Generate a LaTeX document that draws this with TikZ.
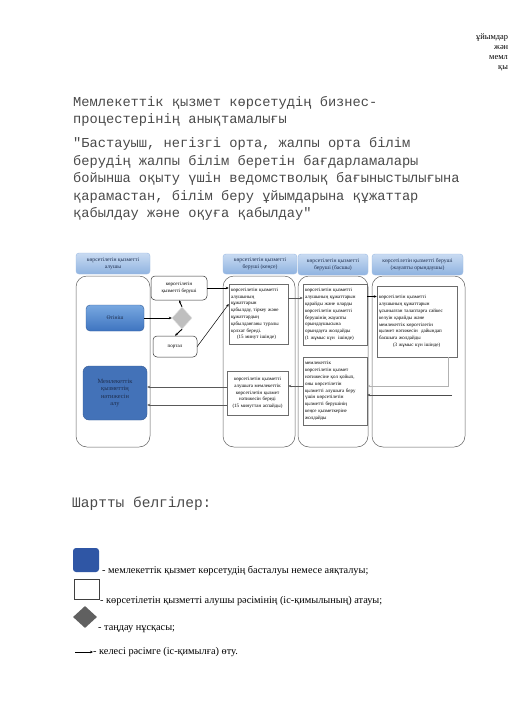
\documentclass[tikz,border=0pt]{standalone}
\usepackage{fontspec}
\setmainfont{Liberation Serif}
\setmonofont{Liberation Mono}
\usetikzlibrary{shapes.geometric,arrows.meta}
\definecolor{titlegray}{HTML}{4A4A4A}
\definecolor{hdtop}{HTML}{C9DBF2}
\definecolor{hdbot}{HTML}{8FB3E0}
\definecolor{hdline}{HTML}{9DBBE3}
\definecolor{sttop}{HTML}{78A8E0}
\definecolor{stbot}{HTML}{3E74C0}
\definecolor{endblue}{HTML}{4372B8}
\definecolor{legblue}{HTML}{2F56A5}
\definecolor{txtnavy}{HTML}{1E2E4E}
\tikzset{
  lanehead/.style={draw=hdline, rounded corners=3pt, top color=hdtop, bottom color=hdbot,
    font=\fontsize{5.6}{6.6}\selectfont, text=txtnavy, align=center, inner sep=1pt},
  lanebody/.style={draw=gray!75!black, line width=0.5pt, rounded corners=11pt},
  stepbox/.style={draw=gray!85!black, fill=white, line width=0.5pt,
    font=\fontsize{5}{6.8}\selectfont, align=left, inner sep=2pt},
  roundbox/.style={stepbox, draw=black!80, rounded corners=4pt, align=center},
  startbox/.style={draw=stbot!80!black, rounded corners=4pt, top color=sttop, bottom color=stbot,
    font=\fontsize{5.6}{6.6}\selectfont, text=txtnavy},
  endbox/.style={draw=endblue!80!black, fill=endblue, rounded corners=6pt,
    font=\fontsize{6.4}{7.6}\selectfont, text=txtnavy, align=center},
  decision/.style={diamond, fill=gray!50, draw=gray!25, inner sep=0pt, aspect=1},
  arr/.style={-{Stealth[length=3pt,width=2.6pt]}, line width=0.5pt},
  thickarr/.style={arr, line width=0.9pt},
  titletext/.style={font=\ttfamily\fontsize{13.7}{17}\selectfont, text=titlegray, anchor=west, inner sep=0pt},
  legtext/.style={font=\fontsize{10.3}{11}\selectfont, anchor=west, inner sep=0pt},
  cornertext/.style={font=\fontsize{8.4}{10}\selectfont, anchor=west, inner sep=0pt},
}
\begin{document}
\begin{tikzpicture}[x=1pt,y=-1pt]
\useasboundingbox (0,0) rectangle (509,720);
\fill[white] (0,0) rectangle (509,720);

% corner text (cut by page edge)
\node[cornertext] (c1) at (476,38) {ұйымдар};
\node[cornertext] (c2) at (494,48) {жән};
\node[cornertext] (c3) at (489,58) {мемл};
\node[cornertext] (c4) at (498,68) {қы};

% titles
\node[titletext] (t1) at (73,103) {Мемлекеттік қызмет көрсетудің бизнес-};
\node[titletext] (t2) at (73,120) {процестерінің анықтамалығы};
\node[titletext] (t3) at (73,144) {"Бастауыш, негізгі орта, жалпы орта білім};
\node[titletext] (t4) at (73,162) {берудің жалпы білім беретін бағдарламалары};
\node[titletext] (t5) at (73,179) {бойынша оқыту үшін ведомстволық бағыныстылығына};
\node[titletext] (t6) at (73,197) {қарамастан, білім беру ұйымдарына құжаттар};
\node[titletext] (t7) at (73,214) {қабылдау және оқуға қабылдау"};

% lane bodies
\draw[lanebody] (76,276) rectangle (150,447);
\draw[lanebody] (223,276) rectangle (295,447);
\draw[lanebody] (298,276) rectangle (368,447);
\draw[lanebody] (372,276) rectangle (465,447);

% lane headers
\node[lanehead, minimum width=74pt, minimum height=21pt] (h1) at (113,263.5) {көрсетілетін қызметті\\алушы};
\node[lanehead, minimum width=74pt, minimum height=20pt] (h2) at (260,264) {көрсетілетін қызметті\\берушi (кеңсе)};
\node[lanehead, minimum width=70pt, minimum height=21pt] (h3) at (333,264.5) {көрсетілетін қызметті\\беруші (басшы)};
\node[lanehead, minimum width=91pt, minimum height=21pt] (h4) at (417.5,264.5) {көрсетілетін қызметті беруші\\(жауапты орындаушы)};

% lane 1
\node[startbox, minimum width=58pt, minimum height=26pt] (start) at (115,318) {Өтініш};
\node[endbox, minimum width=64pt, minimum height=54pt] (end) at (115,393) {Мемлекеттік\\қызметтің\\нәтижесін\\алу};
\node[roundbox, minimum width=56pt, minimum height=24pt] (top) at (179,288) {көрсетілетін\\қызметті беруші};
\node[decision, minimum width=20pt, minimum height=22pt] (dec) at (182,318) {};
\node[roundbox, minimum width=44pt, minimum height=21pt] (portal) at (175,346.5) {портал};

% lane 2
\node[stepbox, minimum width=59pt, minimum height=60pt, text width=55pt] (k1) at (258.5,314) {көрсетілетін қызметті\\алушының\\құжаттарын\\қабылдау, тіркеу және\\құжаттардың\\қабылданғаны туралы\\қолхат береді.\\\hspace*{6pt}(15 минут ішінде)};
\node[stepbox, minimum width=61pt, minimum height=44pt, text width=57pt, align=center] (k2) at (257.5,393) {көрсетілетін қызметті\\алушыға мемлекеттік\\көрсетілетін қызмет\\нәтижесін береді\\(15 минуттан аспайды)};

% lane 3
\node[stepbox, minimum width=64pt, minimum height=61pt, text width=60pt] (b1) at (335,314.5) {көрсетілетін қызметті\\алушының құжаттарын\\қарайды және оларды\\көрсетілетін қызметті\\берушінің жауапты\\орындаушысына\\орындауға жолдайды\\(1 жұмыс күн \ ішінде)};
\node[stepbox, minimum width=64pt, minimum height=68pt, text width=60pt] (b2) at (335,391) {мемлекеттік\\көрсетілетін қызмет\\нәтижесіне қол қойып,\\оны көрсетілетін\\қызметті алушыға беру\\үшін көрсетілетін\\қызметті берушінің\\кеңсе қызметкеріне\\жолдайды};

% lane 4
\node[stepbox, minimum width=80pt, minimum height=71pt, text width=76pt] (j1) at (417,321.5) {көрсетілетін қызметті\\алушының құжаттарын\\ұсынылған талаптарға сәйкес\\келуін қарайды және\\мемлекеттік көрсетілетін\\қызмет нәтижесін \ дайындап\\басшыға жолдайды\\\hspace*{14pt}(3 жұмыс күн ішінде)};

% connectors
\draw[thickarr] (start.east) -- (dec.west);
\draw[thickarr] (dec.north) -- (top.south);
\draw[thickarr] (dec.south) -- (portal.north);
\draw[arr] (top.east) -- (top.east -| k1.west);
\draw[arr] (portal.east) -- ([yshift=10pt]k1.west);
\draw[arr, draw=gray!70!black] ([yshift=16pt]k1.east) -- ([yshift=16pt]k1.east -| b1.west);
\draw[arr] ([yshift=18pt]b1.east) -- ([yshift=18pt]b1.east -| j1.west);
\draw[arr, draw=gray!60] ([xshift=31pt]j1.south) |- ([yshift=5pt]b2.east);
\coordinate (f) at (452,395);
\draw[arr, draw=gray!60!black, line width=0.9pt] (f) -- (f -| b2.east);
\draw[arr, draw=gray!70!black] ([yshift=5pt]b2.west) -- ([yshift=5pt]b2.west -| k2.east);
\draw[arr, draw=gray!70!black] ([yshift=6pt]k2.west) -- ([yshift=6pt]k2.west -| end.east);
\draw[arr, draw=gray!70!black] ([yshift=-12pt]k2.west) -- ([yshift=-12pt]k2.west -| end.east);

% legend
\node[titletext, font=\ttfamily\fontsize{14.5}{16}\selectfont] (lt) at (72,504) {Шартты белгілер:};
\node[fill=legblue, rounded corners=3pt, minimum width=26pt, minimum height=24pt, inner sep=0pt] (l1) at (86,560) {};
\node[legtext] (l1t) at (102,571) {- мемлекеттік қызмет көрсетудің басталуы немесе аяқталуы;};
\node[draw=black!75, line width=0.8pt, fill=white, minimum width=25pt, minimum height=20pt, inner sep=0pt] (l2) at (86.5,589) {};
\node[legtext] (l2t) at (100,601) {- көрсетілетін қызметті алушы рәсімінің (іс-қимылының) атауы;};
\node[diamond, fill=gray!75!black, minimum width=24pt, minimum height=22pt, inner sep=0pt] (l3) at (85,617) {};
\node[legtext] (l3t) at (98,629) {- таңдау нұсқасы;};
\coordinate (l4a) at (75,652);
\node[legtext] (l4t) at (93,652) {- келесі рәсімге (іс-қимылға) өту.};
\draw[arr] (l4a) -- (l4t.west);
\end{tikzpicture}
\end{document}
